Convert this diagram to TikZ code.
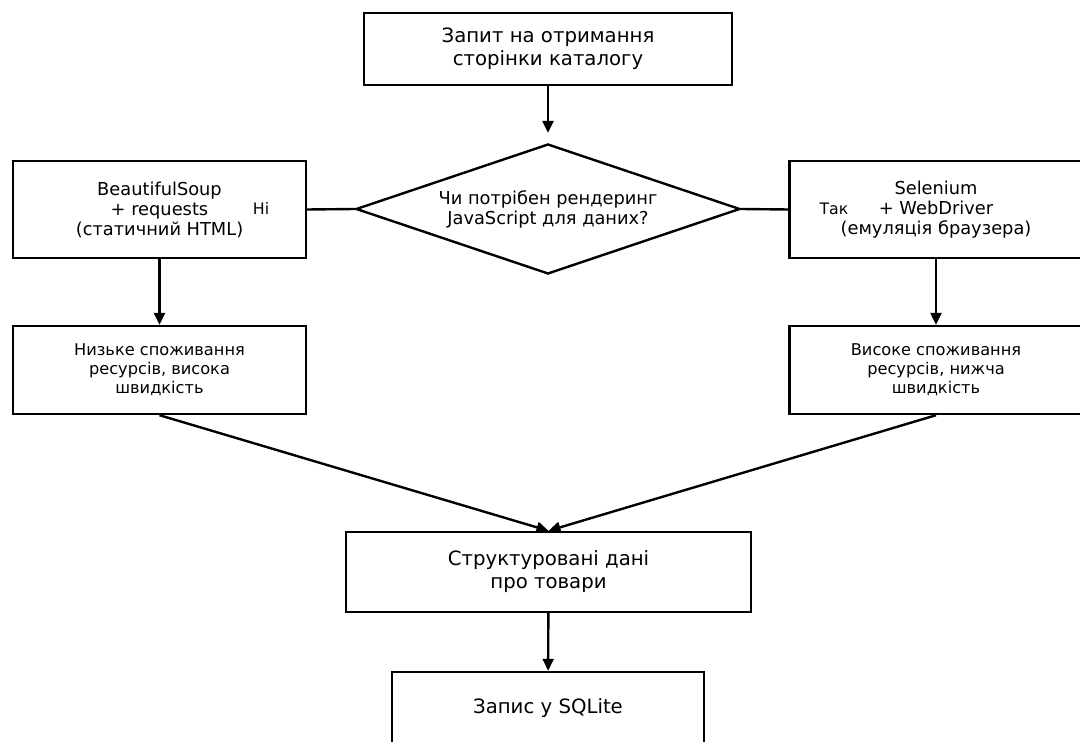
\documentclass[tikz,border=0pt]{standalone}
\usepackage{fontspec}
\setmainfont{DejaVu Sans}
\usetikzlibrary{arrows.meta,positioning,shapes.geometric}

\begin{document}
\begin{tikzpicture}[x=0.5pt,y=-0.5pt,
    box/.style={draw,line width=1.2pt,minimum width=#1,align=center,inner sep=2pt},
    big/.style={font=\fontsize{9.85}{11.5}\selectfont},
    mid/.style={font=\fontsize{8.9}{10}\selectfont},
    small/.style={font=\fontsize{8.1}{9.5}\selectfont},
    lbl/.style={font=\fontsize{7.9}{9}\selectfont,inner sep=0pt},
    a/.style={-{Triangle[length=6pt,width=5.5pt]},line width=1.2pt}]
    \useasboundingbox (0,0) rectangle (1080,742);
    \node[box=184pt,big,minimum height=36pt] (req) at (548,49) {Запит на отримання\\сторінки каталогу};
    \node[diamond,draw,line width=1.2pt,mid,align=center,inner sep=0pt,shape aspect=2.9,minimum width=192pt,minimum height=65pt] (dia) at (548,209) {Чи потрібен рендеринг\\JavaScript для даних?};
    \node[box=146.5pt,mid,minimum height=48.5pt] (bs) at (159.5,209.5) {BeautifulSoup\\+ requests\\(статичний HTML)};
    \node[box=146.5pt,mid,minimum height=48.5pt] (sel) at (936,209.5) {Selenium\\+ WebDriver\\(емуляція браузера)};
    \node[box=146.5pt,small,minimum height=44pt] (low) at (159.5,370) {Низьке споживання\\ресурсів, висока\\швидкість};
    \node[box=146.5pt,small,minimum height=44pt] (high) at (936,370) {Високе споживання\\ресурсів, нижча\\швидкість};
    \node[box=202.5pt,big,minimum height=40pt] (data) at (548.5,572) {Структуровані дані\\про товари};
    \node[box=156pt,big,minimum height=36pt] (sql) at (548,708) {Запис у SQLite};
    \node[lbl] (no) at (261,209) {Ні};
    \node[lbl] (yes) at (834,209) {Так};
    \draw[a,shorten >=5pt] (req) -- (dia);
    \draw[line width=1.2pt] (dia.west) -- (bs.east);
    \draw[line width=1.2pt] (dia.east) -- (sel.west);
    \draw[a] (bs) -- (low);
    \draw[a] (sel) -- (high);
    \draw[a] (low.south) -- (data.north);
    \draw[a] (high.south) -- (data.north);
    \draw[a] (data) -- (sql);
\end{tikzpicture}
\end{document}
